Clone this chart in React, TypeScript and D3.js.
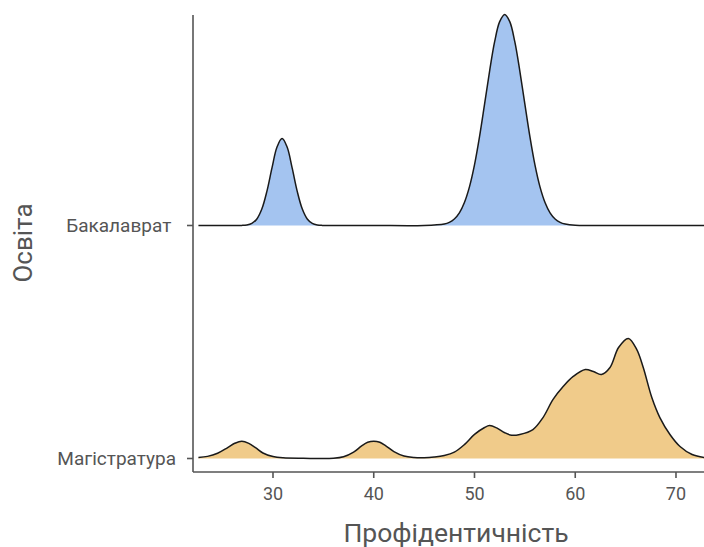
import React from "react";
import * as d3 from "d3";

const categories = ["Магістратура", "Бакалаврат"];
const categoryLabels = ["Магістратура", "Бакалаврат "];
const xTicks = [30, 40, 50, 60, 70];
const xTitle = "Профідентичність";
const yTitle = "Освіта";

const bachelorX = [22.6, 25, 26.9, 27.4, 27.9, 28.4, 28.9, 29.4, 29.9, 30.4, 30.9, 31.4, 31.9, 32.4, 32.9, 33.4, 33.9, 34.4, 34.9, 36, 40, 45, 47, 47.5, 48, 48.5, 49, 49.5, 50, 50.5, 51, 51.5, 52, 52.5, 53, 53.5, 54, 54.5, 55, 55.5, 56, 56.5, 57, 57.5, 58, 58.5, 59, 60, 62, 72.8];
const bachelorDensity = [0, 0, 0.0005, 0.0026, 0.01, 0.031, 0.079, 0.163, 0.273, 0.372, 0.412, 0.372, 0.273, 0.163, 0.079, 0.031, 0.01, 0.0026, 0.0005, 0, 0, 0, 0.007, 0.015, 0.031, 0.06, 0.109, 0.183, 0.287, 0.421, 0.575, 0.732, 0.871, 0.966, 1.0, 0.966, 0.871, 0.732, 0.575, 0.421, 0.287, 0.183, 0.109, 0.06, 0.031, 0.015, 0.007, 0.001, 0, 0];

const masterX = [22.6, 23.5, 24.5, 25.5, 26.2, 26.9, 27.6, 28.3, 29, 30, 31, 33, 36, 37, 38, 38.8, 39.4, 40, 40.6, 41.2, 42, 43, 44, 45, 46, 47, 48, 49, 50, 51, 51.5, 52.2, 53, 53.7, 54.5, 55.8, 56.8, 57.8, 58.8, 59.8, 61, 61.8, 62.6, 63.45, 64.3, 65.27, 66.1, 66.75, 67.6, 68.4, 69.4, 70.4, 71.6, 72.8];
const masterDensity = [0.005, 0.01, 0.025, 0.052, 0.072, 0.082, 0.072, 0.05, 0.026, 0.009, 0.003, 0.001, 0.001, 0.008, 0.03, 0.06, 0.077, 0.082, 0.077, 0.06, 0.033, 0.012, 0.005, 0.004, 0.007, 0.014, 0.03, 0.066, 0.114, 0.147, 0.156, 0.145, 0.122, 0.11, 0.114, 0.137, 0.194, 0.28, 0.341, 0.389, 0.422, 0.412, 0.398, 0.431, 0.526, 0.569, 0.517, 0.431, 0.289, 0.194, 0.114, 0.057, 0.019, 0.005];

const fills = ["#F0CB8A", "#A4C4F0"];

const W = 704;
const H = 547;
const left = 193;
const right = 704;
const top = 15;
const bottom = 472;

export default function App() {
  const x = d3.scaleLinear().domain([22.06, 72.78]).range([left, right]);
  const y = d3.scalePoint<string>().domain(categories).range([458.5, 225.5]);
  const h = d3.scaleLinear().domain([0, 1]).range([0, 211]);

  const series = [
    { cat: categories[0], xs: masterX, ds: masterDensity, fill: fills[0] },
    { cat: categories[1], xs: bachelorX, ds: bachelorDensity, fill: fills[1] },
  ];

  const font = "Roboto, 'Liberation Sans', Arial, sans-serif";

  return (
    <svg width={W} height={H} style={{ position: "absolute", left: 0, top: 0, background: "#fff" }}>
      <defs>
        <clipPath id="panel">
          <rect x={left} y={0} width={right - left} height={bottom} />
        </clipPath>
      </defs>
      <g clipPath="url(#panel)">
        {series.map((s) => {
          const base = y(s.cat) as number;
          const pts = s.xs.map((xv, i) => [xv, s.ds[i]] as [number, number]);
          const curve = d3.curveCatmullRom.alpha(0.5);
          const area = d3
            .area<[number, number]>()
            .x((d) => x(d[0]))
            .y0(base)
            .y1((d) => Math.min(base, base - h(d[1])))
            .curve(curve);
          const line = d3
            .line<[number, number]>()
            .x((d) => x(d[0]))
            .y((d) => base - h(d[1]))
            .curve(curve);
          return (
            <g key={s.cat}>
              <path d={area(pts) || ""} fill={s.fill} stroke="none" />
              <path d={line(pts) || ""} fill="none" stroke="#1a1a1a" strokeWidth={1.5} />
            </g>
          );
        })}
      </g>
      <line x1={left} x2={left} y1={top} y2={bottom} stroke="#555" strokeWidth={1.6} />
      <line x1={left} x2={right} y1={bottom} y2={bottom} stroke="#555" strokeWidth={1.6} />
      {xTicks.map((t) => (
        <g key={t}>
          <line x1={x(t)} x2={x(t)} y1={bottom} y2={bottom + 6} stroke="#555" strokeWidth={1.6} />
          <text x={x(t)} y={bottom + 28} textAnchor="middle" fontFamily={font} fontSize={18} fill="#555">
            {t}
          </text>
        </g>
      ))}
      {categories.map((c, i) => (
        <g key={c}>
          <line x1={left - 6} x2={left} y1={y(c)} y2={y(c)} stroke="#555" strokeWidth={1.6} />
          <text
            x={left - 17}
            y={(y(c) as number) + 6.5}
            textAnchor="end"
            fontFamily={font}
            fontSize={19}
            fill="#555"
            style={{ whiteSpace: "pre" }}
          >
            {categoryLabels[i]}
          </text>
        </g>
      ))}
      <text x={456} y={542} textAnchor="middle" fontFamily={font} fontSize={26.5} fill="#555">
        {xTitle}
      </text>
      <text
        transform={`translate(32,243) rotate(-90)`}
        textAnchor="middle"
        fontFamily={font}
        fontSize={26}
        fill="#555"
      >
        {yTitle}
      </text>
    </svg>
  );
}
